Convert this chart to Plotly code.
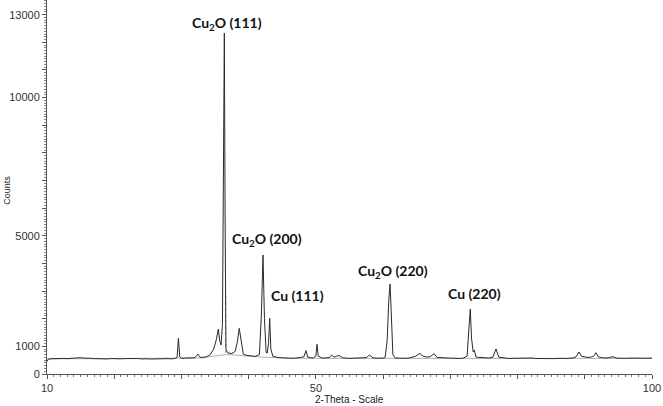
import plotly.graph_objects as go

theta = [10.0, 10.2, 10.6, 11.0, 11.5, 12.0, 12.5, 13.0, 13.5, 14.0, 14.5, 15.0, 15.5, 16.0, 16.5,
         17.0, 17.5, 18.0, 18.5, 19.0, 19.5, 20.0, 20.5, 21.0, 21.5, 22.0, 22.5, 23.0, 23.5,
         24.0, 24.5, 25.0, 25.5, 26.0, 26.5, 27.0, 27.5, 28.0, 28.5, 29.0, 29.35, 29.55, 29.75,
         30.0, 30.5, 31.0, 31.5, 32.0, 32.45, 32.8, 33.2, 33.6, 34.2, 34.8, 35.2, 35.48, 35.7,
         35.9, 36.1, 36.25, 36.38, 36.5, 36.62, 36.9, 37.5, 38.0, 38.3, 38.6, 38.85, 39.2, 39.6,
         40.0, 40.5, 41.0, 41.6, 41.9, 42.13, 42.35, 42.6, 42.77, 42.95, 43.13, 43.3, 43.6, 44.0,
         44.5, 45.0, 45.5, 46.0, 46.5, 47.0, 47.5, 48.2, 48.53, 48.8, 49.2, 49.6, 50.0, 50.17,
         50.35, 50.7, 51.0, 51.5, 52.0, 52.35, 52.7, 53.1, 53.5, 54.0, 54.5, 55.0, 55.5, 56.0,
         56.5, 57.0, 57.5, 57.95, 58.5, 59.0, 59.5, 60.0, 60.3, 60.6, 60.85, 61.03, 61.2, 61.45,
         61.8, 62.3, 62.8, 63.3, 63.8, 64.3, 64.8, 65.3, 65.5, 65.9, 66.5, 67.0, 67.3, 67.6,
         68.0, 68.5, 69.0, 69.5, 70.0, 70.5, 71.0, 71.5, 72.0, 72.5, 72.75, 72.97, 73.15, 73.4,
         73.57, 73.8, 74.2, 74.7, 75.2, 75.7, 76.3, 76.8, 77.2, 77.7, 78.2, 78.7, 79.2, 79.7,
         80.2, 80.7, 81.2, 81.7, 82.2, 82.7, 83.2, 83.7, 84.2, 84.7, 85.2, 85.7, 86.2, 86.7,
         87.2, 87.7, 88.2, 88.7, 89.14, 89.5, 90.0, 90.5, 91.0, 91.3, 91.67, 92.0, 92.5, 93.0,
         93.6, 94.2, 94.7, 95.2, 95.7, 96.2, 96.7, 97.2, 97.7, 98.2, 98.7, 99.2, 99.7, 100.0]
counts = [450, 540, 552, 560, 548, 556, 566, 558, 572, 565, 580, 590, 575, 582, 570,
          556, 548, 560, 552, 545, 558, 550, 562, 548, 556, 560, 545, 552, 560,
          546, 555, 550, 542, 548, 538, 546, 552, 556, 548, 560, 600, 1290, 620,
          565, 575, 568, 582, 585, 720, 600, 612, 615, 680, 900, 1250, 1620, 1200,
          1050, 1800, 6000, 12330, 5500, 900, 760, 740, 820, 1150, 1650, 1200, 720, 680,
          660, 650, 640, 700, 2200, 4305, 2000, 780, 760, 1100, 2015, 900, 640, 610,
          590, 585, 572, 580, 568, 575, 585, 620, 843, 610, 590, 580, 650, 1074,
          640, 590, 575, 585, 592, 687, 605, 650, 660, 585, 570, 565, 572, 570,
          578, 575, 590, 687, 585, 572, 570, 575, 600, 1200, 2700, 3256, 2300, 700,
          580, 572, 560, 568, 575, 600, 640, 720, 735, 650, 612, 625, 680, 735,
          600, 585, 570, 578, 575, 565, 570, 562, 580, 650, 1600, 2352, 1300, 800,
          868, 620, 600, 585, 572, 580, 600, 905, 610, 585, 575, 560, 568, 572,
          570, 562, 565, 575, 578, 560, 566, 572, 570, 558, 555, 565, 562, 568,
          560, 572, 580, 620, 796, 640, 610, 600, 615, 640, 770, 620, 595, 580,
          590, 626, 575, 568, 560, 566, 575, 570, 565, 572, 566, 570, 575, 572]

# fitted background (grey) and K-alpha2 marker line
bg_theta = [10, 30, 33, 35, 36.5, 38, 40, 43, 46, 50, 58, 61, 64, 70, 73, 76, 100]
bg_counts = [545, 555, 580, 650, 700, 690, 640, 600, 570, 565, 565, 575, 565, 565, 580, 565, 565]
ka2_theta = [36.58, 36.58]
ka2_counts = [760, 2930]

# peak labels
peak_labels = ["Cu<sub>2</sub>O (111)", "Cu<sub>2</sub>O (200)", "Cu (111)",
               "Cu<sub>2</sub>O (220)", "Cu (220)"]
label_theta = [36.78, 42.79, 47.19, 61.47, 73.52]
label_counts = [12663, 4848, 2822, 3701, 2930]

# axis ticks
x_tickvals = list(range(10, 101, 10))
x_ticktext = ["10" if v == 10 else "50" if v == 50 else "100" if v == 100 else "" for v in x_tickvals]
y_tickvals = list(range(0, 13001, 1000))
y_labelled = {0, 1000, 5000, 10000, 13000}
y_ticktext = [str(v) if v in y_labelled else "" for v in y_tickvals]

fig = go.Figure()
fig.add_trace(go.Scatter(x=bg_theta, y=bg_counts, mode="lines",
                         line=dict(color="#b0b0b0", width=1), hoverinfo="skip"))
fig.add_trace(go.Scatter(x=ka2_theta, y=ka2_counts, mode="lines",
                         line=dict(color="#999999", width=1, dash="dot"), hoverinfo="skip"))
fig.add_trace(go.Scatter(x=theta, y=counts, mode="lines",
                         line=dict(color="#2a2a2a", width=1)))

for t, xv, yv in zip(peak_labels, label_theta, label_counts):
    fig.add_annotation(x=xv, y=yv, text="<b>" + t + "</b>", showarrow=False,
                       font=dict(family="Lato", size=14, color="#111111"),
                       xanchor="center", yanchor="middle")

fig.add_annotation(xref="paper", yref="paper", x=-0.066, y=0.49, text="Counts",
                   textangle=-90, showarrow=False, xanchor="center", yanchor="middle",
                   font=dict(family="Liberation Sans", size=9, color="#222222"))
fig.add_annotation(xref="paper", yref="paper", x=0.5, y=-0.067, text="2-Theta - Scale",
                   showarrow=False, xanchor="center", yanchor="middle",
                   font=dict(family="Liberation Sans", size=10, color="#222222"))

fig.update_layout(
    width=663, height=406,
    margin=dict(l=47, r=11, t=0, b=32, autoexpand=False),
    paper_bgcolor="white", plot_bgcolor="white",
    showlegend=False,
    xaxis=dict(range=[10, 100], tickvals=x_tickvals, ticktext=x_ticktext,
               automargin=False,
               ticks="outside", ticklen=4, tickcolor="#555555", tickwidth=1,
               showline=True, linecolor="#555555", linewidth=1,
               showgrid=False, zeroline=False,
               minor=dict(dtick=1, ticks="outside", ticklen=2, tickcolor="#777777"),
               tickfont=dict(family="Liberation Sans", size=11, color="#333333")),
    yaxis=dict(range=[0, 13530], tickvals=y_tickvals, ticktext=y_ticktext,
               automargin=False,
               ticks="outside", ticklen=4, tickcolor="#555555", tickwidth=1,
               showline=True, linecolor="#555555", linewidth=1,
               showgrid=False, zeroline=False,
               minor=dict(dtick=100, ticks="outside", ticklen=2, tickcolor="#888888"),
               tickfont=dict(family="Liberation Sans", size=11, color="#333333")),
)

fig.write_html("out.html", config={"displayModeBar": False},
               post_script="document.body.style.margin='0px';document.body.style.padding='0px';")
